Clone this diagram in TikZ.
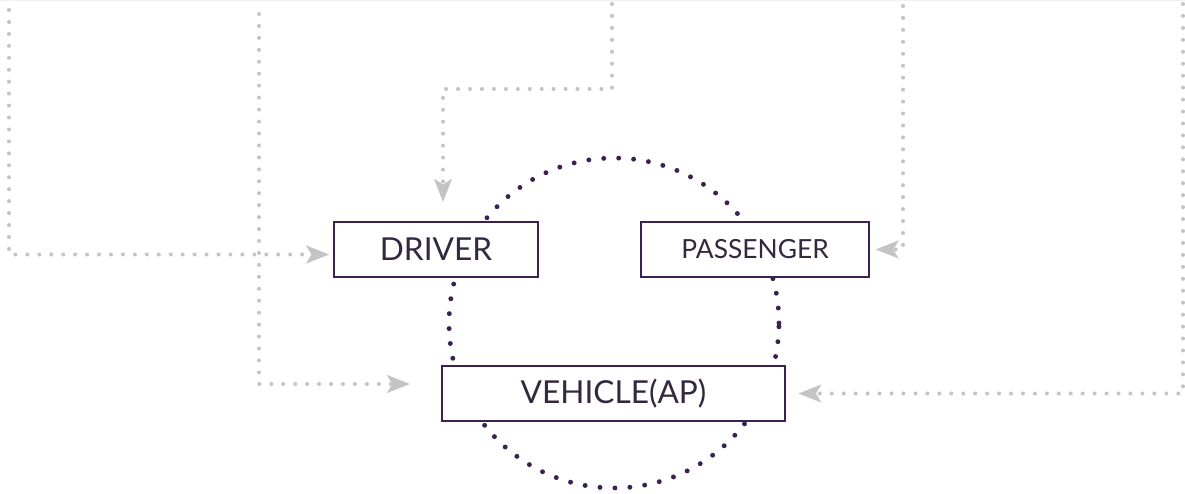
\documentclass[tikz,border=0pt]{standalone}
\usepackage{fontspec}
\setmainfont{Lato}
\usepackage{xcolor}
\usetikzlibrary{arrows.meta,positioning,calc}

\definecolor{plum}{HTML}{3B2150}
\definecolor{ink}{HTML}{33283F}
\definecolor{mist}{HTML}{C4C4C4}

\begin{document}
\begin{tikzpicture}[
    x=0.02cm, y=-0.02cm,
    box/.style={rectangle, draw=plum, line width=1.5pt, fill=white, minimum height=1.1cm, text=ink, font=\fontsize{18}{20}\selectfont},
    ring/.style={draw=plum, line width=2.8pt, line cap=round, dash pattern=on 0pt off 8.52pt},
    feed/.style={draw=mist, line width=2.3pt, line cap=round, dash pattern=on 0pt off 6.8pt, -{Stealth[length=13pt, width=10pt, inset=3pt, fill=mist]}}
]
    \useasboundingbox (0,0) rectangle (1185,493);
    \draw[gray!12, line width=0.5pt] (0,0.5) -- (1185,0.5);

    % Feeds coming in from the top
    \coordinate (in1) at (9,10);
    \coordinate (in2) at (259,14);
    \coordinate (in3) at (612,4);
    \coordinate (in4) at (903,6);
    \coordinate (in5) at (1183,4);
    \coordinate (tip2) at (410,384);
    \coordinate (tip3) at (443,202);

    % Ring around the three actors
    \draw[ring] (614,323) circle [radius=3.3cm];

    % Actors
    \node[box, minimum width=4.08cm] (driver) at (436,249.5) {DRIVER};
    \node[box, minimum width=4.56cm, font=\fontsize{15}{17}\selectfont] (passenger) at (755,249.5) {PASSENGER};
    \node[box, minimum width=6.86cm] (vehicle) at (613.5,393.5) {VEHICLE(AP)};

    % Connectors
    \draw[feed, shorten >=2pt] (in1) |- ([yshift=-1mm]driver.west);
    \draw[feed] (in2) |- (tip2);
    \draw[feed] (in3) -- ++(0,85) -| (tip3);
    \draw[feed, shorten >=3pt] (in4) |- (passenger.east);
    \draw[feed, shorten >=0.24cm] (in5) |- (vehicle.east);
\end{tikzpicture}
\end{document}
